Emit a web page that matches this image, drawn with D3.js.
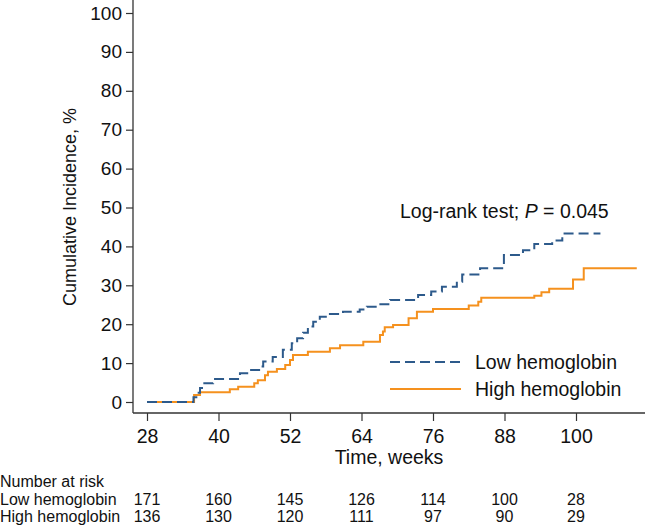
<!DOCTYPE html>
<html><head><meta charset="utf-8">
<script src="https://cdn.jsdelivr.net/npm/d3@7"></script>
<style>
html,body{margin:0;padding:0;background:#fff;}
svg{display:block;font-family:"Liberation Sans",Arial,sans-serif;}
</style></head>
<body><svg id="c" width="645" height="525"></svg>
<script>
// ---- data ----
const xTicks = [28, 40, 52, 64, 76, 88, 100];
const yTicks = [0, 10, 20, 30, 40, 50, 60, 70, 80, 90, 100];
const groups = ["Low hemoglobin", "High hemoglobin"];
const lowTimes  = [28, 35.8, 36.5, 36.9, 37.4, 39.1, 43.6, 45.3, 47.0, 47.5, 49.1, 50.8, 52.3, 53.2, 54.2, 55.0, 55.9, 57.0, 58.7, 60.9, 63.7, 64.9, 66.6, 68.8, 73.5, 75.7, 77.5, 80.0, 80.9, 83.9, 87.9, 91.1, 93.0, 96.0, 97.7, 104.1];
const lowValues = [0, 1.2, 2.4, 3.6, 4.8, 5.9, 7.4, 8.2, 9.1, 10.4, 11.6, 13.4, 15.1, 16.4, 17.8, 19.4, 20.6, 21.9, 22.6, 23.2, 23.8, 24.5, 25.1, 26.2, 27.5, 28.4, 29.6, 30.9, 32.8, 34.4, 37.8, 39.0, 40.6, 41.5, 43.3, 43.3];
const highTimes  = [28, 35.9, 36.9, 41.9, 43.3, 46.0, 46.6, 47.8, 48.3, 49.8, 51.2, 52.0, 52.5, 55.0, 58.7, 60.4, 64.3, 67.1, 67.6, 67.9, 69.3, 71.9, 73.3, 76.0, 82.0, 83.6, 84.1, 93.0, 94.2, 95.5, 99.5, 101.3, 110.2];
const highValues = [0, 1.8, 2.5, 3.3, 3.9, 4.8, 5.6, 6.9, 7.8, 8.5, 9.5, 10.8, 12.1, 12.9, 13.8, 14.6, 15.5, 17.2, 18.1, 19.2, 19.8, 21.5, 23.2, 23.9, 24.8, 25.8, 26.8, 27.3, 28.2, 29.1, 31.5, 34.4, 34.4];
const riskLow  = [171, 160, 145, 126, 114, 100, 28];
const riskHigh = [136, 130, 120, 111, 97, 90, 29];

const colLow = "#2d5a8b", colHigh = "#f5911e";
const svg = d3.select("#c");
const x = d3.scaleLinear().domain([28, 100]).range([147, 576]);
const y = d3.scaleLinear().domain([0, 100]).range([402, 13]);
const axisCol = "#333";
const FONT = "Liberation Sans, Arial, sans-serif";

// axes frame
svg.append("line").attr("x1", 133).attr("x2", 133).attr("y1", 0).attr("y2", 413).attr("stroke", axisCol).attr("stroke-width", 1.3);
svg.append("line").attr("x1", 133).attr("x2", 645).attr("y1", 413).attr("y2", 413).attr("stroke", axisCol).attr("stroke-width", 1.3);

const yAxis = svg.append("g").attr("transform", "translate(133,0)")
  .call(d3.axisLeft(y).tickValues(yTicks).tickSize(7).tickPadding(4).tickFormat(d3.format("d")));
yAxis.select(".domain").remove();
yAxis.selectAll("line").attr("stroke", axisCol).attr("stroke-width", 1.2);
yAxis.selectAll("text").attr("font-size", 19).attr("fill", "#111").attr("font-family", FONT);

const xAxis = svg.append("g").attr("transform", "translate(0,413)")
  .call(d3.axisBottom(x).tickValues(xTicks).tickSize(8).tickPadding(8).tickFormat(d3.format("d")));
xAxis.select(".domain").remove();
xAxis.selectAll("line").attr("stroke", axisCol).attr("stroke-width", 1.2);
xAxis.selectAll("text").attr("font-size", 19.5).attr("fill", "#111").attr("font-family", FONT);

// axis titles
svg.append("text").attr("transform", "translate(76,207) rotate(-90)").attr("text-anchor", "middle")
  .attr("font-size", 18).attr("fill", "#111").text("Cumulative Incidence, %");
svg.append("text").attr("x", 389).attr("y", 464).attr("text-anchor", "middle")
  .attr("font-size", 19.5).attr("fill", "#111").text("Time, weeks");

// curves
const line = d3.line().x(d => x(d[0])).y(d => y(d[1])).curve(d3.curveStepAfter);
const lowData = lowTimes.map((t, i) => [t, lowValues[i]]);
const highData = highTimes.map((t, i) => [t, highValues[i]]);
svg.append("path").datum(highData).attr("d", line).attr("fill", "none")
  .attr("stroke", colHigh).attr("stroke-width", 2);
svg.append("path").datum(lowData).attr("d", line).attr("fill", "none")
  .attr("stroke", colLow).attr("stroke-width", 2).attr("stroke-dasharray", "10,5");

// annotation
const ann = svg.append("text").attr("x", 400).attr("y", 218).attr("font-size", 19.5).attr("fill", "#111");
ann.append("tspan").text("Log-rank test; ");
ann.append("tspan").attr("font-style", "italic").text("P");
ann.append("tspan").text(" = 0.045");

// legend
const leg = [{name: groups[0], col: colLow, dash: "10,5", yy: 362},
             {name: groups[1], col: colHigh, dash: null, yy: 389}];
leg.forEach(l => {
  svg.append("line").attr("x1", 390).attr("x2", 461).attr("y1", l.yy).attr("y2", l.yy)
    .attr("stroke", l.col).attr("stroke-width", 2).attr("stroke-dasharray", l.dash);
  svg.append("text").attr("x", 475).attr("y", l.yy + 7).attr("font-size", 19.5).attr("fill", "#111").text(l.name);
});

// number at risk table
svg.append("text").attr("x", 0).attr("y", 487).attr("font-size", 16).attr("fill", "#111").text("Number at risk");
[[groups[0], riskLow, 505], [groups[1], riskHigh, 522]].forEach(([name, vals, yy]) => {
  svg.append("text").attr("x", 0).attr("y", yy).attr("font-size", 16).attr("fill", "#111").text(name);
  svg.selectAll(null).data(vals).enter().append("text")
    .attr("x", (d, i) => x(xTicks[i])).attr("y", yy).attr("text-anchor", "middle")
    .attr("font-size", 16).attr("fill", "#111").text(d => d);
});
</script></body></html>
